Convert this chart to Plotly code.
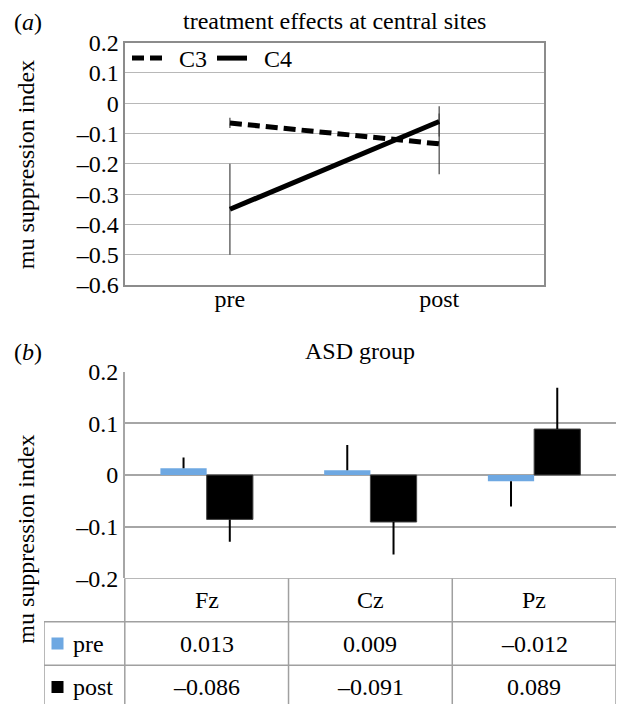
import plotly.graph_objects as go

# ---------------- data ----------------
# panel (a)
a_phases = ["pre", "post"]
a_series = ["C3", "C4"]
a_c3 = [-0.065, -0.134]
a_c3_err = [0.017, 0.10]
a_c4 = [-0.35, -0.06]
a_c4_err = [0.15, 0.05]
a_ticks = [0.2, 0.1, 0, -0.1, -0.2, -0.3, -0.4, -0.5, -0.6]

# panel (b)
b_sites = ["Fz", "Cz", "Pz"]
b_pre = [0.013, 0.009, -0.012]
b_pre_err = [0.021, 0.049, 0.049]
b_post = [-0.086, -0.091, 0.089]
b_post_err = [0.043, 0.063, 0.080]
b_ticks = [0.2, 0.1, 0, -0.1, -0.2]
b_rows = ["pre", "post"]

W, H = 618, 704
FONT = "Liberation Serif"
FS = 24
PRE_COL = "#6ea8e2"
GRID = "#a6a6a6"
NB = "\u00a0\u00a0"


def px_x(p):
    return p / W


def px_y(p):
    return 1 - p / H


def fmt_tick(v, nd):
    if abs(v) < 1e-12:
        return "0"
    return f"{v:.{nd}f}".replace("-", "\u2013")


def one_sided(vals, errs):
    plus = [e if v >= 0 else 0 for v, e in zip(vals, errs)]
    minus = [e if v < 0 else 0 for v, e in zip(vals, errs)]
    return plus, minus


fig = go.Figure()

# ---- panel (a) ----
fig.add_trace(go.Scatter(
    x=a_phases, y=a_c3, name=NB + a_series[0], mode="lines",
    line=dict(color="black", width=5, dash="12px,6px"),
    error_y=dict(type="data", array=a_c3_err, color="#444", thickness=1.2, width=0),
    xaxis="x", yaxis="y"))
fig.add_trace(go.Scatter(
    x=a_phases, y=a_c4, name=NB + a_series[1], mode="lines",
    line=dict(color="black", width=5),
    error_y=dict(type="data", array=a_c4_err, color="#444", thickness=1.2, width=0),
    xaxis="x", yaxis="y"))

# ---- panel (b) ----
pp, pm = one_sided(b_pre, b_pre_err)
fig.add_trace(go.Bar(
    x=b_sites, y=b_pre, name="pre", showlegend=False,
    marker=dict(color=PRE_COL, line=dict(width=0)),
    error_y=dict(type="data", symmetric=False, array=pp, arrayminus=pm,
                 color="black", thickness=2, width=0),
    xaxis="x2", yaxis="y2"))
qp, qm = one_sided(b_post, b_post_err)
fig.add_trace(go.Bar(
    x=b_sites, y=b_post, name="post", showlegend=False,
    marker=dict(color="black", line=dict(color="#444", width=1)),
    error_y=dict(type="data", symmetric=False, array=qp, arrayminus=qm,
                 color="black", thickness=2, width=0),
    xaxis="x2", yaxis="y2"))

# ---- data table under panel (b) (axes x3/y3, aligned with x2 categories) ----
n = len(b_sites)
b_left, b_right = 124.8, 616.0
col_w = (b_right - b_left) / n
key_left = 44.0
k = (b_left - key_left) / col_w
row_h = 43.5
tbl_top = 578.3
y3_units = (H - tbl_top) / row_h

fig.add_trace(go.Scatter(
    x=[-0.5 - k + 13.5 / col_w] * len(b_rows), y=list(range(1, len(b_rows) + 1)),
    mode="markers", showlegend=False,
    marker=dict(symbol="square", size=12, color=[PRE_COL, "black"], line=dict(width=0)),
    xaxis="x3", yaxis="y3", hoverinfo="skip"))

shapes = []
LC = "#a0a0a0"
shapes.append(dict(type="line", xref="x3", yref="y3", x0=-0.5, x1=n - 0.5, y0=-0.5, y1=-0.5,
                   line=dict(color=LC, width=1.5)))
for r in range(len(b_rows) + 1):
    yy = r + 0.5
    shapes.append(dict(type="line", xref="x3", yref="y3", x0=-0.5 - k, x1=n - 0.5, y0=yy, y1=yy,
                       line=dict(color=LC, width=1.5)))
shapes.append(dict(type="line", xref="x3", yref="y3", x0=-0.5 - k, x1=-0.5 - k, y0=0.5,
                   y1=len(b_rows) + 0.5, line=dict(color=LC, width=1.5)))
for c in range(n + 1):
    xx = c - 0.5
    shapes.append(dict(type="line", xref="x3", yref="y3", x0=xx, x1=xx, y0=-0.5,
                       y1=len(b_rows) + 0.5, line=dict(color=LC, width=1.5)))

txtfont = dict(family=FONT, size=FS, color="black")
annotations = []
for i, s in enumerate(b_sites):
    annotations.append(dict(x=i, y=0, xref="x3", yref="y3", text=s, showarrow=False,
                            xanchor="center", yanchor="middle", font=txtfont))
for r, vals in enumerate([b_pre, b_post], start=1):
    for i, v in enumerate(vals):
        annotations.append(dict(x=i, y=r, xref="x3", yref="y3", text=fmt_tick(v, 3),
                                xanchor="center", yanchor="middle", showarrow=False,
                                font=txtfont))
for r, lab in enumerate(b_rows, start=1):
    annotations.append(dict(x=-0.5 - k + 27 / col_w, y=r, xref="x3", yref="y3", text=lab,
                            xanchor="left", yanchor="middle", showarrow=False, font=txtfont))

annotations += [
    dict(x=px_x(334.5), y=px_y(21), xref="paper", yref="paper", xanchor="center",
         yanchor="middle", text="treatment effects at central sites", showarrow=False,
         font=txtfont),
    dict(x=px_x(12), y=px_y(22), xref="paper", yref="paper", xanchor="left", yanchor="middle",
         text="(<i>a</i>)", showarrow=False, font=txtfont),
    dict(x=px_x(360), y=px_y(351), xref="paper", yref="paper", xanchor="center",
         yanchor="middle", text="ASD group", showarrow=False, font=txtfont),
    dict(x=px_x(12), y=px_y(352), xref="paper", yref="paper", xanchor="left", yanchor="middle",
         text="(<i>b</i>)", showarrow=False, font=txtfont),
    dict(x=px_x(25.7), y=px_y(164.5), xref="paper", yref="paper", textangle=-90,
         xanchor="center", yanchor="middle", text="mu suppression index", showarrow=False,
         font=txtfont),
    dict(x=px_x(25.7), y=px_y(539), xref="paper", yref="paper", textangle=-90,
         xanchor="center", yanchor="middle", text="mu suppression index", showarrow=False,
         font=txtfont),
]

tickfont = dict(family=FONT, size=FS, color="black")

fig.update_layout(
    width=W, height=H,
    margin=dict(l=0, r=0, t=0, b=0, pad=0, autoexpand=False),
    paper_bgcolor="white", plot_bgcolor="white",
    font=dict(family=FONT, size=FS, color="black"),
    showlegend=True,
    legend=dict(orientation="h", x=px_x(127), y=px_y(36), xanchor="left", yanchor="top",
                bgcolor="rgba(0,0,0,0)", borderwidth=0, font=dict(family=FONT, size=FS),
                itemwidth=30, tracegroupgap=0),
    barmode="group", bargap=0.435, bargroupgap=0,
    xaxis=dict(domain=[px_x(125.3), px_x(543.8)], type="category", range=[-0.5, 1.5],
               showgrid=False, showline=True, mirror=True, linecolor="#8c8c8c", linewidth=1.5,
               ticks="", tickfont=tickfont, ticklabelstandoff=-9, anchor="y", zeroline=False),
    yaxis=dict(domain=[px_y(285), px_y(42.7)], range=[-0.6, 0.2], tickvals=a_ticks,
               ticktext=[fmt_tick(v, 1) for v in a_ticks], showgrid=True, gridcolor="#b8b8b8",
               gridwidth=1, zeroline=False, showline=True, mirror=True, linecolor="#8c8c8c",
               linewidth=1.5, ticks="", tickfont=tickfont, anchor="x"),
    xaxis2=dict(domain=[px_x(b_left), px_x(b_right)], type="category", range=[-0.5, n - 0.5],
                showgrid=False, showline=False, showticklabels=False, ticks="", anchor="y2",
                zeroline=False),
    yaxis2=dict(domain=[px_y(tbl_top), px_y(371.7)], range=[-0.2, 0.2], tickvals=b_ticks,
                ticktext=[fmt_tick(v, 1) for v in b_ticks], showgrid=True, gridcolor=GRID,
                gridwidth=1.5, zeroline=True, zerolinecolor=GRID, zerolinewidth=1.5,
                showline=True, linecolor=GRID, linewidth=1.5, ticks="",
                tickfont=tickfont, anchor="x2"),
    xaxis3=dict(domain=[px_x(key_left), px_x(b_right)], range=[-0.5 - k, n - 0.5],
                visible=False, anchor="y3"),
    yaxis3=dict(domain=[0, px_y(tbl_top)], range=[y3_units - 0.5, -0.5], visible=False,
                anchor="x3"),
    shapes=shapes,
    annotations=annotations,
)

fig.write_html("out.html", config={"displayModeBar": False},
               post_script="document.body.style.margin='0px';")
